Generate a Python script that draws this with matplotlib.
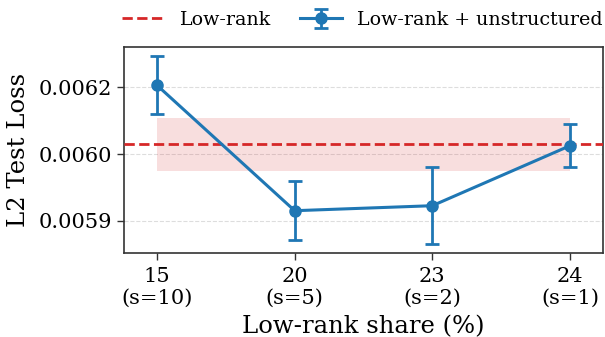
import matplotlib
matplotlib.use("Agg")
import matplotlib.pyplot as plt
import numpy as np

plt.rcParams['font.family'] = ['DejaVu Serif']

# Low-rank share of the parameter budget and the matching sparsity setting
shares = ["15", "20", "23", "24"]
s_values = ["s=10", "s=5", "s=2", "s=1"]

# Low-rank + unstructured: mean L2 test loss and its spread
combo_mean = [0.006153, 0.005965, 0.0059725, 0.0060624]
combo_err = [0.0000433, 0.000044, 0.0000578, 0.000032]

# Pure low-rank baseline: mean and spread
lowrank_mean = 0.0060645
lowrank_err = 0.0000395

# y tick positions and their printed labels
ytick_vals = [0.00595, 0.00605, 0.00615]
ytick_labels = ["0.0059", "0.0060", "0.0062"]

blue = "#1f77b4"
red = "#d62728"

fig = plt.figure(figsize=(6.05, 3.37), dpi=100)
ax = fig.add_axes([124 / 605, 1 - 253 / 337, (603 - 124) / 605, (253 - 47) / 337])

x = np.arange(len(shares))

ax.fill_between([x[0], x[-1]], lowrank_mean - lowrank_err, lowrank_mean + lowrank_err,
                color=red, alpha=0.15, linewidth=0)
ax.axhline(lowrank_mean, color=red, linestyle="--", linewidth=2, label="Low-rank", zorder=3)
ax.errorbar(x, combo_mean, yerr=combo_err, color=blue, marker="o", markersize=8,
            linewidth=2.2, capsize=5, capthick=2, elinewidth=2,
            label="Low-rank + unstructured", zorder=4)

ax.set_xlim(-0.24, 3.24)
ax.set_ylim(0.0059016, 0.0062104)
ax.set_xticks(x)
ax.set_xticklabels([f"{a}\n({b})" for a, b in zip(shares, s_values)], fontsize=15)
ax.set_yticks(ytick_vals)
ax.set_yticklabels(ytick_labels, fontsize=15)
ax.yaxis.grid(True, linestyle="--", color="#dddddd", linewidth=0.8)
ax.set_axisbelow(True)

ax.set_xlabel("Low-rank share (%)", fontsize=17.5, labelpad=5)
ax.set_ylabel("L2 Test Loss", fontsize=17.5, labelpad=6)

for sp in ax.spines.values():
    sp.set_color("#333333")
    sp.set_linewidth(1.2)
ax.tick_params(axis="both", color="#333333", length=5, width=1)
ax.tick_params(axis="x", pad=5)

handles, labels = ax.get_legend_handles_labels()
fig.legend(handles, labels, loc="upper right", bbox_to_anchor=(1.025, 1.018), ncol=2,
           frameon=False, fontsize=13.7, handlelength=2.2, columnspacing=1.6)

fig.savefig("out.png", dpi=100)
